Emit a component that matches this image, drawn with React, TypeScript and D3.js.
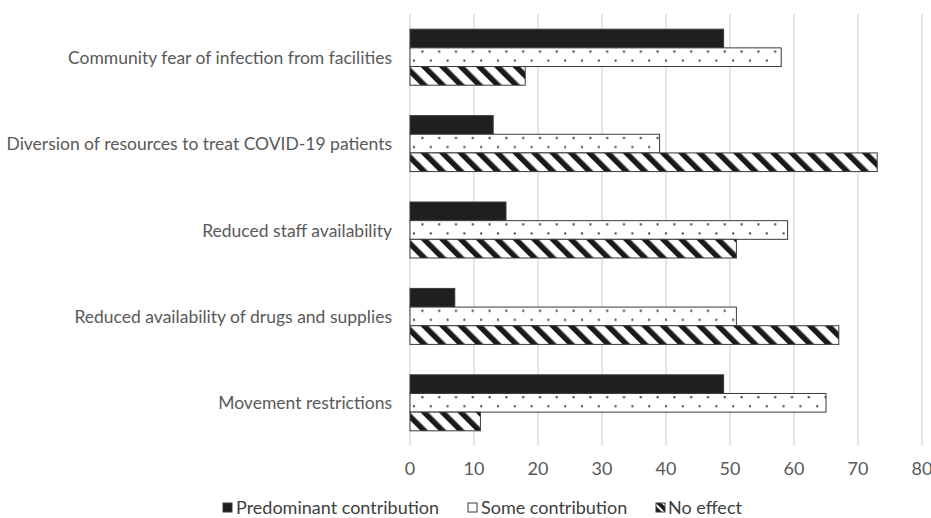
import React from "react";
import * as d3 from "d3";

const categories = [
  "Community fear of infection from facilities",
  "Diversion of resources to treat COVID-19 patients",
  "Reduced staff availability",
  "Reduced availability of drugs and supplies",
  "Movement restrictions",
];
const seriesNames = ["Predominant contribution", "Some contribution", "No effect"];
const predominant = [49, 13, 15, 7, 49];
const some = [58, 39, 59, 51, 65];
const noEffect = [18, 73, 51, 67, 11];
const xTicks = [0, 10, 20, 30, 40, 50, 60, 70, 80];

const W = 931;
const H = 518;
const FONT = "Lato, 'Open Sans', sans-serif";

export default function App() {
  const x = d3.scaleLinear().domain([0, 80]).range([410, 922]);
  const y0 = d3.scaleBand<string>().domain(categories).range([14, 446]).padding(0);
  const bw = y0.bandwidth();
  const y1 = d3
    .scaleBand<string>()
    .domain(seriesNames)
    .range([bw * 0.176, bw * 0.824])
    .padding(0);
  const values = [predominant, some, noEffect];
  const fills = ["#1f1f1f", "url(#dots)", "url(#hatch)"];

  return (
    <svg
      width={W}
      height={H}
      style={{ position: "absolute", left: 0, top: 0, background: "#fff" }}
      fontFamily={FONT}
    >
      <defs>
        <pattern id="dots" patternUnits="userSpaceOnUse" width={16.8} height={18.7} x={410} y={0}>
          <rect width={16.8} height={18.7} fill="#fff" />
          <circle cx={4} cy={9.3} r={1.1} fill="#333" />
          <circle cx={12.4} cy={0.3} r={1.1} fill="#333" />
          <circle cx={12.4} cy={18.7} r={1.1} fill="#333" />
        </pattern>
        <pattern
          id="hatch"
          patternUnits="userSpaceOnUse"
          width={13}
          height={13}
          patternTransform="rotate(-45)"
        >
          <rect width={13} height={13} fill="#fff" />
          <rect x={0} y={0} width={5.5} height={13} fill="#1a1a1a" />
        </pattern>
        <pattern id="hatchSmall" patternUnits="userSpaceOnUse" width={6} height={6} patternTransform="rotate(-45)">
          <rect width={6} height={6} fill="#fff" />
          <rect width={4} height={6} fill="#1a1a1a" />
        </pattern>
      </defs>

      {/* gridlines */}
      {xTicks.map((t) => (
        <line key={t} x1={x(t)} x2={x(t)} y1={14} y2={446} stroke="#d9d9d9" strokeWidth={1.3} />
      ))}

      {/* bars */}
      {categories.map((c, ci) => (
        <g key={c} transform={`translate(0,${y0(c)})`}>
          {seriesNames.map((s, si) => (
            <rect
              key={s}
              x={x(0)}
              y={y1(s)}
              width={x(values[si][ci]) - x(0)}
              height={y1.bandwidth()}
              fill={fills[si]}
              stroke="#3a3a3a"
              strokeWidth={1}
            />
          ))}
        </g>
      ))}

      {/* category labels */}
      {categories.map((c) => (
        <text
          key={c}
          x={392}
          y={(y0(c) ?? 0) + bw / 2}
          textAnchor="end"
          dominantBaseline="central"
          fontSize={17.5}
          fill="#595959"
        >
          {c}
        </text>
      ))}

      {/* x tick labels */}
      {xTicks.map((t) => (
        <text key={t} x={x(t)} y={468} textAnchor="middle" dominantBaseline="central" fontSize={18} fill="#595959">
          {t}
        </text>
      ))}

      {/* legend */}
      {(() => {
        const items = [
          { name: seriesNames[0], sx: 223, tx: 236, fill: "#1f1f1f" },
          { name: seriesNames[1], sx: 468, tx: 481, fill: "#fff" },
          { name: seriesNames[2], sx: 656, tx: 668, fill: "url(#hatchSmall)" },
        ];
        return items.map((it) => (
          <g key={it.name}>
            <rect x={it.sx} y={503} width={9} height={9} fill={it.fill} stroke="#3a3a3a" strokeWidth={1} />
            <text x={it.tx} y={507} dominantBaseline="central" fontSize={18} fill="#404040">
              {it.name}
            </text>
          </g>
        ));
      })()}
    </svg>
  );
}
